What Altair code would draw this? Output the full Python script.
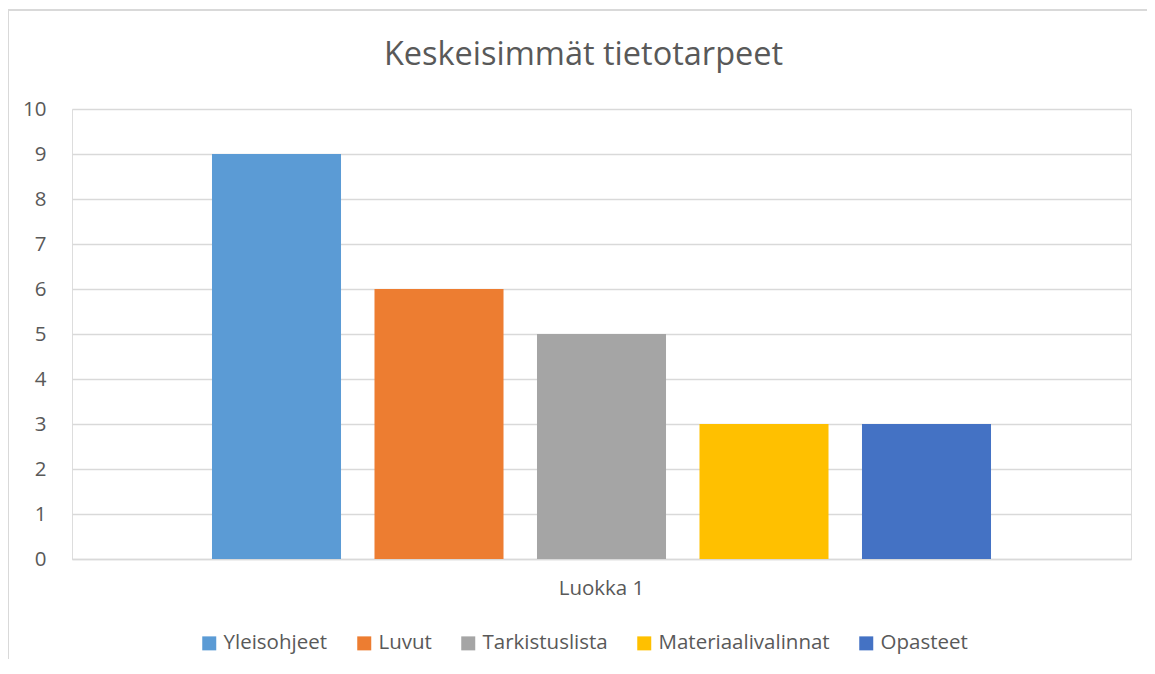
import altair as alt
import pandas as pd

categories = ["Luokka 1"] * 5
series = ["Yleisohjeet", "Luvut", "Tarkistuslista", "Materiaalivalinnat", "Opasteet"]
values = [9, 6, 5, 3, 3]
colors = ["#5B9BD5", "#ED7D31", "#A5A5A5", "#FFC000", "#4472C4"]
title_text = ["Keskeisimmät tietotarpeet"]

df = pd.DataFrame({"cat": categories, "series": series, "value": values})
tdf = pd.DataFrame({"t": title_text})

FONT = "Open Sans"
TXT = "#595959"
GRID = "#D9D9D9"
FS = 20.5

bars = alt.Chart(df).mark_bar().encode(
    x=alt.X("cat:N", title=None,
            scale=alt.Scale(paddingInner=0, paddingOuter=0),
            axis=alt.Axis(labelAngle=0, labelFontSize=FS, labelColor=TXT, labelFont=FONT,
                          grid=False, ticks=False, tickSize=0, domain=True, domainColor=GRID,
                          labelPadding=19, domainWidth=1.3)),
    xOffset=alt.XOffset("series:N", sort=series,
                        scale=alt.Scale(paddingInner=0.206, paddingOuter=0.8615)),
    y=alt.Y("value:Q", title=None,
            scale=alt.Scale(domain=[0, 10], nice=False),
            axis=alt.Axis(values=list(range(0, 11)), grid=True, gridColor=GRID, gridWidth=1.3,
                          domain=False, ticks=False, tickSize=0, labelPadding=26,
                          labelFontSize=FS, labelColor=TXT, labelFont=FONT)),
    color=alt.Color("series:N", sort=series,
                    scale=alt.Scale(domain=series, range=colors),
                    legend=alt.Legend(title=None, orient="none", direction="horizontal",
                                      legendX=127, legendY=524, symbolType="square",
                                      symbolSize=196, symbolStrokeWidth=0, labelFontSize=20.5,
                                      labelFont=FONT, labelColor=TXT, columnPadding=26,
                                      labelOffset=4, padding=0, columns=5, labelLimit=400)),
)

frame_top = alt.Chart(df).mark_rule(color=GRID, strokeWidth=1.5, clip=False).encode(
    x=alt.value(-64), x2=alt.value(1200), y=alt.value(-99))
frame_left = alt.Chart(df).mark_rule(color=GRID, strokeWidth=1.5, clip=False).encode(
    x=alt.value(-64), y=alt.value(-99), y2=alt.value(700))

title = alt.Chart(tdf).mark_text(font=FONT, fontSize=32.5, color=TXT, align="center",
                                 baseline="alphabetic", clip=False).encode(
    text="t:N", x=alt.value(511.5), y=alt.value(-44))

chart = alt.layer(frame_top, frame_left, bars, title).properties(
    width=1059, height=450,
    autosize=alt.AutoSizeParams(type="none"),
    padding={"left": 64, "top": 101, "right": 16, "bottom": 100},
).configure_view(strokeWidth=0, stroke="transparent").configure(background="white")

chart.save("out.html", embed_options={"renderer": "svg", "actions": False})
